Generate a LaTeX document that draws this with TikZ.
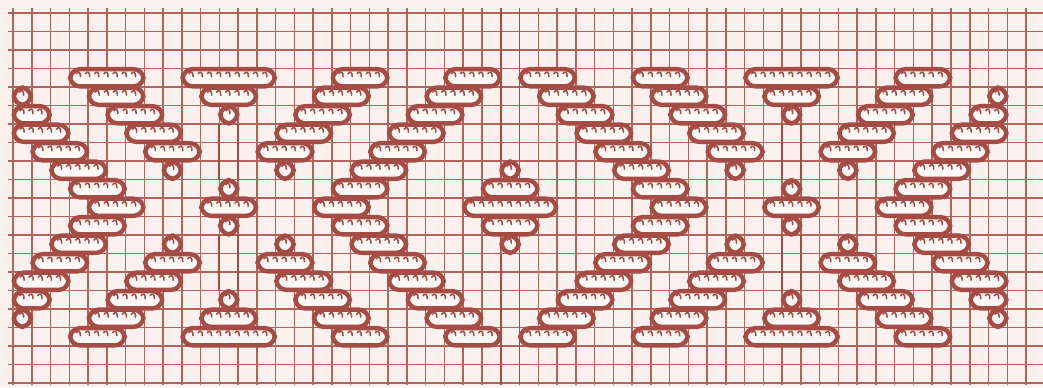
\documentclass[tikz,border=0pt]{standalone}
\usepackage{tikz}
\definecolor{paper}{RGB}{250,241,238}
\definecolor{ink}{RGB}{165,76,68}
\definecolor{gridc}{RGB}{180,100,92}
\definecolor{barfill}{RGB}{253,247,245}
\begin{document}
\begin{tikzpicture}[x=0.75pt,y=-0.75pt,
  gridv/.style={draw=gridc,line width=1.15pt},
  gridh/.style={draw=gridc,line width=0.95pt},
  stem/.style={draw=ink,line width=1.45pt},
  stitchbar/.style={draw=ink,fill=barfill,line width=3.3pt,rounded corners=7.5pt},
  hookst/.style={draw=ink,line width=1.15pt,line cap=round}]
\def\cw{18.76}
\def\rh{18.5}
\def\ox{13}
\def\oy{13}
\fill[paper] (0,0) rectangle (1043,387);
\useasboundingbox (0,0) rectangle (1043,387);
% grid
\foreach \c in {0,...,54} \draw[gridv] ({\ox+\c*\cw},8) -- ({\ox+\c*\cw},385);
\foreach \r in {0,...,20} \draw[gridh] (8,{\oy+\r*\rh}) -- (1043,{\oy+\r*\rh});
% stems
\foreach \c/\ra/\rb in {11/6/9,11/12/15,41/6/9,41/12/15} {
  \draw[stem] ({\ox+\c*\cw},{\oy+\ra*\rh}) -- ({\ox+\c*\cw},{\oy+\rb*\rh});
  \draw[stem] ({\ox+(\c+1)*\cw},{\oy+\ra*\rh}) -- ({\ox+(\c+1)*\cw},{\oy+\rb*\rh});
}
\draw[stem] ({\ox+26*\cw},8) -- ({\ox+26*\cw},{\oy+8*\rh});
\draw[stem] ({\ox+27*\cw},8) -- ({\ox+27*\cw},{\oy+8*\rh});
\draw[stem] ({\ox+26*\cw},{\oy+13*\rh}) -- ({\ox+26*\cw},385);
\draw[stem] ({\ox+27*\cw},{\oy+13*\rh}) -- ({\ox+27*\cw},385);
% stitch bars: row/first col/last col
\foreach \r/\a/\b in {
 3/3/6,3/9/13,3/17/19,3/23/25,3/27/29,3/33/35,3/39/43,3/47/49,
 4/0/0,4/4/6,4/10/12,4/16/18,4/22/24,4/28/30,4/34/36,4/40/42,4/46/48,4/52/52,
 5/0/1,5/5/7,5/11/11,5/15/17,5/21/23,5/29/31,5/35/37,5/41/41,5/45/47,5/51/52,
 6/0/2,6/6/8,6/14/16,6/20/22,6/30/32,6/36/38,6/44/46,6/50/52,
 7/1/3,7/7/9,7/13/15,7/19/21,7/31/33,7/37/39,7/43/45,7/49/51,
 8/2/4,8/8/8,8/14/14,8/18/20,8/26/26,8/32/34,8/38/38,8/44/44,8/48/50,
 9/3/5,9/11/11,9/17/19,9/25/27,9/33/35,9/41/41,9/47/49,
 10/4/6,10/10/12,10/16/18,10/24/28,10/34/36,10/40/42,10/46/48,
 11/3/5,11/11/11,11/17/19,11/25/27,11/33/35,11/41/41,11/47/49,
 12/2/4,12/8/8,12/14/14,12/18/20,12/26/26,12/32/34,12/38/38,12/44/44,12/48/50,
 13/1/3,13/7/9,13/13/15,13/19/21,13/31/33,13/37/39,13/43/45,13/49/51,
 14/0/2,14/6/8,14/14/16,14/20/22,14/30/32,14/36/38,14/44/46,14/50/52,
 15/0/1,15/5/7,15/11/11,15/15/17,15/21/23,15/29/31,15/35/37,15/41/41,15/45/47,15/51/52,
 16/0/0,16/4/6,16/10/12,16/16/18,16/22/24,16/28/30,16/34/36,16/40/42,16/46/48,16/52/52,
 17/3/5,17/9/13,17/17/19,17/23/25,17/27/29,17/33/35,17/39/43,17/47/49} {
  \pgfmathsetmacro\xl{\ox+\a*\cw+0.8}
  \pgfmathsetmacro\xr{\ox+(\b+1)*\cw-0.8}
  \pgfmathsetmacro\yt{\oy+\r*\rh+0.6}
  \pgfmathsetmacro\yb{\oy+(\r+1)*\rh-0.6}
  \path[stitchbar] (\xl,\yt) rectangle (\xr,\yb);
  \pgfmathtruncatemacro\nh{2*(\b-\a+1)-1}
  \foreach \k in {1,...,\nh} {
    \pgfmathsetmacro\hx{\xl+\k*(\xr-\xl)/(\nh+1)}
    \draw[hookst] (\hx-3,\yt+4.6) .. controls (\hx-1.2,\yt+1.8) and (\hx+1.6,\yt+2.8) .. (\hx+1.2,\yt+7.6);
  }
}
\end{tikzpicture}
\end{document}
